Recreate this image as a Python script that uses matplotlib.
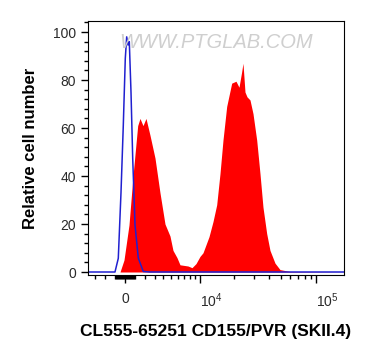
import numpy as np
from matplotlib import pyplot as plt
from matplotlib.ticker import FixedLocator, MultipleLocator

plt.rcParams['font.family'] = ['Liberation Sans', 'DejaVu Sans']

# fluorescence intensity (logicle-like axis) and relative cell number
red_x = [-3873, -482, -96, 386, 774, 1236, 1465, 1769, 2079, 2503, 3054, 3634,
         4246, 4899, 5312, 5887, 6347, 7674, 8403, 9183, 10016, 10680, 12118,
         13166, 14205, 15192, 16142, 17389, 19217, 20928, 22206, 23330, 24030,
         24992, 25994, 27568, 29238, 31425, 33512, 35525, 38182, 40707, 44853,
         49411, 59970, 170000]
red_y = [0, 0, 5, 19.6, 40, 61, 64, 61, 64, 57, 47.5, 33,
         20, 15, 9, 6, 3, 2.5, 1.8, 3.5, 6.5, 8, 14.7,
         21, 28, 41, 55, 69, 78.7, 79.5, 77, 83, 87,
         75, 73, 71.7, 66, 55, 41, 27, 16, 9, 3.7,
         1, 0.2, 0]

blue_x = [-3873, -970, -647, -386, -164, 29, 164, 289, 415, 580, 745, 970,
          1296, 1800, 2503, 170000]
blue_y = [0, 0, 5.7, 33, 61, 89, 98, 94.6, 96, 75, 47.5, 19.6,
          5.8, 0.2, 0, 0]

xticks = [0, 1e4, 1e5]
xticklabels = ['0', r'$\mathregular{10^4}$', r'$\mathregular{10^5}$']
xlabel = 'CL555-65251 CD155/PVR (SKII.4)'
ylabel = 'Relative cell number'

W = 5000.0
def fwd(x):
    return np.arcsinh(np.asarray(x) / W)
def inv(y):
    return W * np.sinh(np.asarray(y))

fig = plt.figure(figsize=(3.77, 3.6), dpi=100)
ax = fig.add_axes([88/377, 1-275/360, 256/377, 254/360])
ax.set_xscale('function', functions=(fwd, inv))

ax.fill_between(red_x, red_y, 0, color='#ff0000', lw=0)
ax.plot(blue_x, blue_y, color='#2020d0', lw=1.1)

ax.set_xlim(-3873, 170000)
ax.set_ylim(-1.25, 104.6)

ax.xaxis.set_major_locator(FixedLocator(xticks))
ax.set_xticklabels(xticklabels)
for lab in ax.get_xticklabels()[1:]:
    lab.set_horizontalalignment('left')
minors = [-3000, -2000, -1000] + list(range(-900, 0, 100)) + list(range(100, 1000, 100)) \
    + list(range(1000, 10000, 1000)) + list(range(20000, 100000, 10000))
ax.xaxis.set_minor_locator(FixedLocator(minors))
ax.yaxis.set_major_locator(MultipleLocator(20))
ax.yaxis.set_minor_locator(MultipleLocator(4))

ax.tick_params(which='major', length=5, width=1, labelsize=10, labelcolor='#2a2a2a')
ax.tick_params(which='minor', length=3, width=1)
ax.tick_params(axis='x', which='major', length=6, pad=6)

ax.set_xlabel(xlabel, fontsize=12.5, fontweight='bold', labelpad=10)
ax.set_ylabel(ylabel, fontsize=12, fontweight='bold', labelpad=11)

ax.text(0.5, 0.917, 'WWW.PTGLAB.COM', transform=ax.transAxes, ha='center', va='center',
        fontsize=14.5, style='italic', color='#cfcfcf')

plt.savefig('out.png', dpi=100)
